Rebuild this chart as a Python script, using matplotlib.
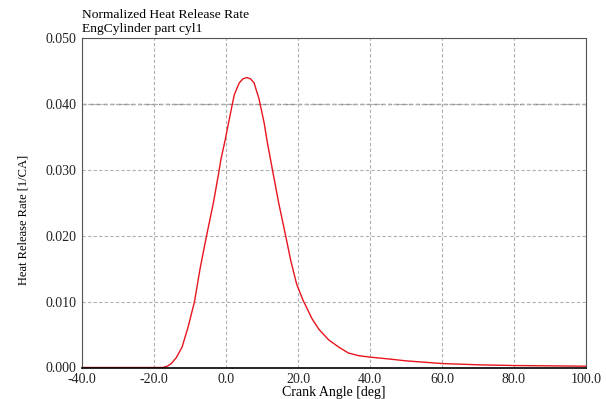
import matplotlib
matplotlib.use("Agg")
import matplotlib.pyplot as plt

# Crank angle [deg] and normalized heat release rate [1/CA]
crank_angle = [-40.0, -30.0, -20.0, -17.5, -16.3, -15.2, -13.8, -12.2, -10.5, -8.75,
               -7.2, -5.4, -3.5, -2.1, -1.4, -0.2, 0.7, 1.7, 2.3, 3.7,
               4.7, 5.8, 6.8, 7.8, 9.2, 10.6, 11.5, 12.9, 14.7, 16.6,
               18.0, 19.6, 21.4, 23.9, 25.8, 28.5, 31.3, 34.0, 36.8, 39.6,
               45.1, 50.2, 60.0, 70.6, 80.0, 100.0]
hrr = [0.0, 0.0, 0.0, 0.0, 0.0002, 0.0006, 0.0015, 0.0031, 0.0062, 0.0100,
       0.0150, 0.0200, 0.0250, 0.0293, 0.0316, 0.0346, 0.0371, 0.0398, 0.0414, 0.0432,
       0.0438, 0.0440, 0.0438, 0.0432, 0.0407, 0.0371, 0.0341, 0.0300, 0.0248, 0.0199,
       0.0162, 0.0127, 0.0102, 0.0074, 0.0058, 0.0042, 0.0031, 0.0022, 0.0018, 0.0016,
       0.0013, 0.0010, 0.0006, 0.0004, 0.0003, 0.0002]

x_ticks = [-40, -20, 0, 20, 40, 60, 80, 100]
y_ticks = [0.0, 0.01, 0.02, 0.03, 0.04, 0.05]

plt.rcParams['font.family'] = ['Liberation Serif', 'DejaVu Serif']

fig = plt.figure(figsize=(6.06, 3.99), dpi=100)
ax = fig.add_axes([82 / 606, 1 - 367.5 / 399, (586 - 82) / 606, (367.5 - 38) / 399])

ax.plot(crank_angle, hrr, color='#e8141e', linewidth=1.0, solid_joinstyle='round')

ax.set_xlim(-40, 100)
ax.set_ylim(0, 0.05)
ax.set_xticks(x_ticks)
ax.set_yticks(y_ticks)
ax.set_xticklabels([f"{v:.1f}" for v in x_ticks], fontsize=10)
ax.set_yticklabels([f"{v:.3f}" for v in y_ticks], fontsize=10)
ax.tick_params(length=0, pad=4, colors='#222222')

ax.grid(True, color='#b0b0b0', linestyle=(0, (3, 2)), linewidth=0.8)
ax.axhline(0.04, color='#8c8c8c', linestyle=(0, (3, 2)), linewidth=1.0, zorder=1)

for side in ['top', 'right', 'left']:
    ax.spines[side].set_color('#555555')
    ax.spines[side].set_linewidth(0.8)
ax.spines['bottom'].set_color('black')
ax.spines['bottom'].set_linewidth(1.2)

ax.set_xlabel('Crank Angle [deg]', fontsize=10, labelpad=0)
ax.set_ylabel('Heat Release Rate [1/CA]', fontsize=9)
ax.yaxis.set_label_coords(-0.104, 0.448)

fig.text(82 / 606, 1 - 15 / 399, 'Normalized Heat Release Rate', fontsize=9.7,
         ha='left', va='center')
fig.text(82 / 606, 1 - 29 / 399, 'EngCylinder part cyl1', fontsize=9.7,
         ha='left', va='center')

plt.savefig('out.png', dpi=100)
